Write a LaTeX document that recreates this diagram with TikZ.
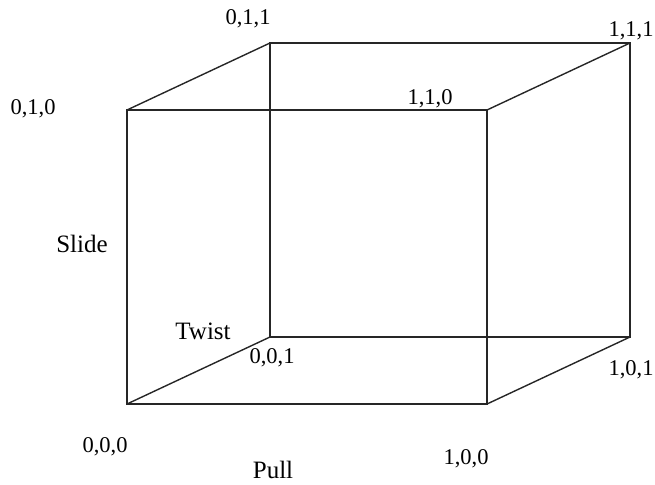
\documentclass[tikz,border=0pt]{standalone}
\usepackage{fontspec}
\setmainfont{Liberation Serif}
\begin{document}
\begin{tikzpicture}[x=1pt,y=-1pt,
  edge/.style={draw=black!85,line width=1.4pt,line join=miter},
  numlab/.style={font=\fontsize{22.5}{25}\selectfont,inner sep=0pt},
  wordlab/.style={font=\fontsize{25}{28}\selectfont,inner sep=0pt}]
\useasboundingbox (0,0) rectangle (655,484);
% corners
\coordinate (p000) at (127,404);
\coordinate (p100) at (487,404);
\coordinate (p010) at (127,110);
\coordinate (p110) at (487,110);
\coordinate (p001) at (270,337);
\coordinate (p101) at (630,337);
\coordinate (p011) at (270,43);
\coordinate (p111) at (630,43);
% front face
\draw[edge] (p000) -- (p100) -- (p110) -- (p010) -- cycle;
% back face
\draw[edge] (p001) -- (p101) -- (p111) -- (p011) -- cycle;
% depth edges
\draw[edge] (p000) -- (p001);
\draw[edge] (p100) -- (p101);
\draw[edge] (p010) -- (p011);
\draw[edge] (p110) -- (p111);
% labels
\node[numlab] (l011) at (248,19) {0,1,1};
\node[numlab] (l111) at (631,31) {1,1,1};
\node[numlab] (l010) at (33,109) {0,1,0};
\node[numlab] (l110) at (430,99) {1,1,0};
\node[numlab] (l001) at (272,358) {0,0,1};
\node[numlab] (l101) at (631,370) {1,0,1};
\node[numlab] (l000) at (105,447) {0,0,0};
\node[numlab] (l100) at (466,459) {1,0,0};
\node[wordlab] (slide) at (82,244) {Slide};
\node[wordlab] (twist) at (203,331) {Twist};
\node[wordlab] (pull) at (273,470) {Pull};
\end{tikzpicture}
\end{document}
